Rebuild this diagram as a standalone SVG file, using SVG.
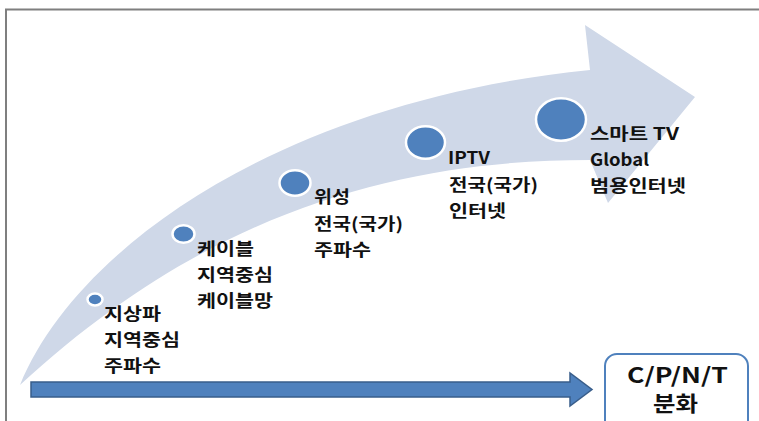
<svg xmlns="http://www.w3.org/2000/svg" width="759" height="421" viewBox="0 0 759 421">
<style>
.lbl{font-family:"Noto Sans CJK KR","Noto Sans",sans-serif;font-size:17px;font-weight:bold;fill:#111}
.dot{fill:#4f81bd;stroke:#fff;stroke-width:2.5}
.box{font-family:"Noto Sans CJK KR","Noto Sans",sans-serif;font-size:21px;font-weight:bold;fill:#111}
</style>
<rect x="0" y="0" width="759" height="421" fill="#fff"/>
<path d="M6,421 V9.5 H759" fill="none" stroke="#7f7f7f" stroke-width="2"/>
<g id="connectors">
<path id="big-arrow" d="M20,385 C78,243 290,100 590,70 L585,25 L695,97 L608,203 L590,160 C420,160 220,200 20,385 Z" fill="#cfd8e8"/>
<path id="bottom-arrow" d="M31,382 H570 V373 L592,389.5 L570,406 V397 H31 Z" fill="#4f81bd" stroke="#385d8a" stroke-width="1.5"/>
</g>
<g id="n1"><ellipse class="dot" cx="95" cy="299.5" rx="7.5" ry="6"/>
<text class="lbl" x="104" y="320" textLength="57" lengthAdjust="spacingAndGlyphs">지상파</text><text class="lbl" x="104" y="346" textLength="76" lengthAdjust="spacingAndGlyphs">지역중심</text><text class="lbl" x="104" y="372" textLength="57" lengthAdjust="spacingAndGlyphs">주파수</text></g>
<g id="n2"><ellipse class="dot" cx="183.5" cy="234" rx="11" ry="8.7"/>
<text class="lbl" x="197" y="255" textLength="57" lengthAdjust="spacingAndGlyphs">케이블</text><text class="lbl" x="197" y="281" textLength="76" lengthAdjust="spacingAndGlyphs">지역중심</text><text class="lbl" x="197" y="307" textLength="76" lengthAdjust="spacingAndGlyphs">케이블망</text></g>
<g id="n3"><ellipse class="dot" cx="295" cy="183" rx="15.5" ry="12.7"/>
<text class="lbl" x="314" y="203" textLength="36" lengthAdjust="spacingAndGlyphs">위성</text><text class="lbl" x="314" y="230" textLength="89" lengthAdjust="spacingAndGlyphs">전국(국가)</text><text class="lbl" x="314" y="256" textLength="57" lengthAdjust="spacingAndGlyphs">주파수</text></g>
<g id="n4"><ellipse class="dot" cx="425.5" cy="142.5" rx="19.5" ry="16.3"/>
<text class="lbl" x="448" y="164" textLength="42" lengthAdjust="spacingAndGlyphs">IPTV</text><text class="lbl" x="449" y="191" textLength="89" lengthAdjust="spacingAndGlyphs">전국(국가)</text><text class="lbl" x="449" y="217" textLength="57" lengthAdjust="spacingAndGlyphs">인터넷</text></g>
<g id="n5"><ellipse class="dot" cx="561" cy="119.5" rx="25" ry="21.3"/>
<text class="lbl" x="590" y="140" textLength="89" lengthAdjust="spacingAndGlyphs">스마트 TV</text><text class="lbl" x="590" y="166" textLength="59" lengthAdjust="spacingAndGlyphs">Global</text><text class="lbl" x="590" y="192" textLength="96" lengthAdjust="spacingAndGlyphs">범용인터넷</text></g>
<g id="cpnt"><rect x="605" y="354" width="143" height="80" rx="12" fill="#fff" stroke="#4f81bd" stroke-width="2"/>
<text class="box" x="627" y="383" textLength="101" lengthAdjust="spacingAndGlyphs">C/P/N/T</text><text class="box" x="653" y="411" textLength="45" lengthAdjust="spacingAndGlyphs">분화</text></g>
</svg>
